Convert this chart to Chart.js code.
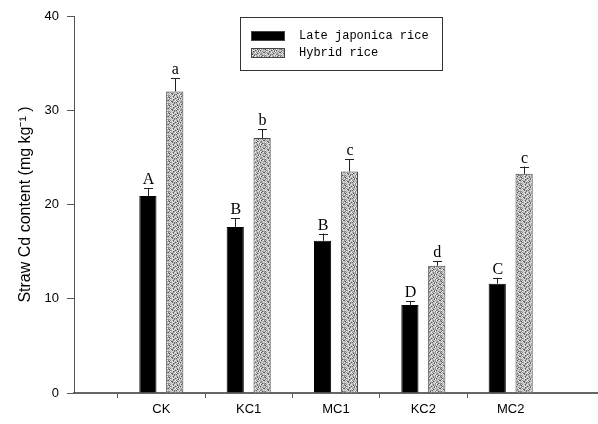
<!DOCTYPE html>
<html>
<head>
<meta charset="utf-8">
<script src="https://cdn.jsdelivr.net/npm/chart.js@4.4.1/dist/chart.umd.min.js"></script>
<style>
  html, body { margin: 0; padding: 0; background: #fff; }
  #wrap { width: 598px; height: 424px; }
</style>
</head>
<body>
<div id="wrap"><canvas id="cdChart" width="598" height="424"></canvas></div>
<script>
// treatments, padded with blanks so the axis runs one slot past each end
var treatments = ['', 'CK', 'KC1', 'MC1', 'KC2', 'MC2', ''];
var seriesNames = ['Late japonica rice', 'Hybrid rice'];

var japonica = [null, 20.9, 17.6, 16.15, 9.35, 11.6, null];
var japonicaErr = [null, 0.85, 0.95, 0.77, 0.4, 0.62, null];
var japonicaLetters = [null, 'A', 'B', 'B', 'D', 'C', null];

var hybrid = [null, 32.0, 27.05, 23.5, 13.5, 23.25, null];
var hybridErr = [null, 1.4, 0.95, 1.3, 0.5, 0.78, null];
var hybridLetters = [null, 'a', 'b', 'c', 'd', 'c', null];

var yTicks = [0, 10, 20, 30, 40];

// stippled grey fill for the hybrid bars (fixed dither map, not data)
function makeStipple() {
    var map = '3152604714263057' +
              '6041735220547163' +
              '2716045363125740' +
              '5307261441736025' +
              '1462537006245137' +
              '7025314652701364' +
              '0647123537460512' +
              '4371650221537406';
    var shades = [85, 125, 155, 175, 190, 205, 220, 240];
    var c = document.createElement('canvas');
    c.width = 16; c.height = 8;
    var g = c.getContext('2d');
    for (var i = 0; i < map.length; i++) {
        var v = shades[parseInt(map[i], 10)];
        g.fillStyle = 'rgb(' + v + ',' + v + ',' + v + ')';
        g.fillRect(i % 16, Math.floor(i / 16), 1, 1);
    }
    return document.getElementById('cdChart').getContext('2d').createPattern(c, 'repeat');
}
var stipple = makeStipple();

var errorBars = {
    id: 'errorBars',
    afterDatasetsDraw: function(chart) {
        var ctx = chart.ctx;
        var y = chart.scales.y;
        ctx.save();
        chart.data.datasets.forEach(function(ds, di) {
            var meta = chart.getDatasetMeta(di);
            meta.data.forEach(function(bar, i) {
                if (ds.data[i] == null) return;
                var top = y.getPixelForValue(ds.data[i] + ds.errors[i]);
                ctx.strokeStyle = '#222';
                ctx.lineWidth = 1;
                ctx.beginPath();
                ctx.moveTo(Math.round(bar.x) + 0.5, bar.y);
                ctx.lineTo(Math.round(bar.x) + 0.5, top);
                ctx.moveTo(Math.round(bar.x) - 4, Math.round(top) + 0.5);
                ctx.lineTo(Math.round(bar.x) + 5, Math.round(top) + 0.5);
                ctx.stroke();
                ctx.fillStyle = '#000';
                ctx.font = '16px "Liberation Serif", serif';
                ctx.textAlign = 'center';
                ctx.textBaseline = 'alphabetic';
                ctx.fillText(ds.letters[i], bar.x + 0.5, top - 4);
            });
        });
        ctx.restore();
    }
};

var boxLegend = {
    id: 'boxLegend',
    afterDraw: function(chart) {
        var ctx = chart.ctx;
        var x0 = chart.chartArea.left + 166;
        var y0 = 17;
        ctx.save();
        ctx.strokeStyle = '#333';
        ctx.lineWidth = 1;
        ctx.strokeRect(x0 + 0.5, y0 + 0.5, 202, 53);
        chart.data.datasets.forEach(function(ds, di) {
            var ry = y0 + 19 + di * 17;
            ctx.fillStyle = ds.backgroundColor;
            ctx.fillRect(x0 + 11, ry - 5, 34, 10);
            ctx.strokeStyle = '#444';
            ctx.strokeRect(x0 + 11.5, ry - 4.5, 33, 9);
            ctx.fillStyle = '#000';
            ctx.font = '12px "Liberation Mono", monospace';
            ctx.textAlign = 'left';
            ctx.textBaseline = 'middle';
            ctx.fillText(ds.label, x0 + 59, ry);
        });
        ctx.restore();
    }
};

new Chart(document.getElementById('cdChart'), {
    type: 'bar',
    data: {
        labels: treatments,
        datasets: [{
            label: seriesNames[0],
            data: japonica,
            errors: japonicaErr,
            letters: japonicaLetters,
            backgroundColor: '#000',
            borderColor: '#000',
            borderWidth: 1
        }, {
            label: seriesNames[1],
            data: hybrid,
            errors: hybridErr,
            letters: hybridLetters,
            backgroundColor: stipple,
            borderColor: '#444',
            borderWidth: 1
        }]
    },
    options: {
        responsive: false,
        animation: false,
        datasets: {
            bar: { categoryPercentage: 0.615, barPercentage: 0.64 }
        },
        layout: { padding: { top: 16, right: 0, left: 0, bottom: 0 } },
        plugins: {
            legend: { display: false },
            tooltip: { enabled: false }
        },
        scales: {
            x: {
                offset: false,
                grid: {
                    drawOnChartArea: false,
                    tickLength: 5,
                    tickColor: function(c) {
                        return (c.index === 0 || c.index === treatments.length - 1) ? 'rgba(0,0,0,0)' : '#555';
                    }
                },
                border: { color: '#666', width: 2 },
                ticks: {
                    color: '#000',
                    padding: 4,
                    maxRotation: 0,
                    autoSkip: false,
                    font: { family: '"Liberation Sans", Arial, sans-serif', size: 13 }
                },
                afterFit: function(scale) {
                    scale.height = 31;
                    scale.paddingRight = 0;
                }
            },
            y: {
                min: 0,
                max: 40,
                afterBuildTicks: function(scale) {
                    scale.ticks = yTicks.map(function(v) { return { value: v }; });
                },
                grid: { drawOnChartArea: false, tickLength: 7, tickColor: '#555' },
                border: { color: '#555', width: 1 },
                ticks: {
                    color: '#000',
                    padding: 8,
                    font: { family: '"Liberation Sans", Arial, sans-serif', size: 13 }
                },
                title: {
                    display: true,
                    text: 'Straw Cd content (mg kg\u207B\u00B9 )',
                    color: '#000',
                    padding: { top: 16, bottom: 0 },
                    font: { family: '"Liberation Sans", Arial, sans-serif', size: 16 }
                },
                afterFit: function(scale) { scale.width = 74; }
            }
        }
    },
    plugins: [errorBars, boxLegend]
});
</script>
</body>
</html>
